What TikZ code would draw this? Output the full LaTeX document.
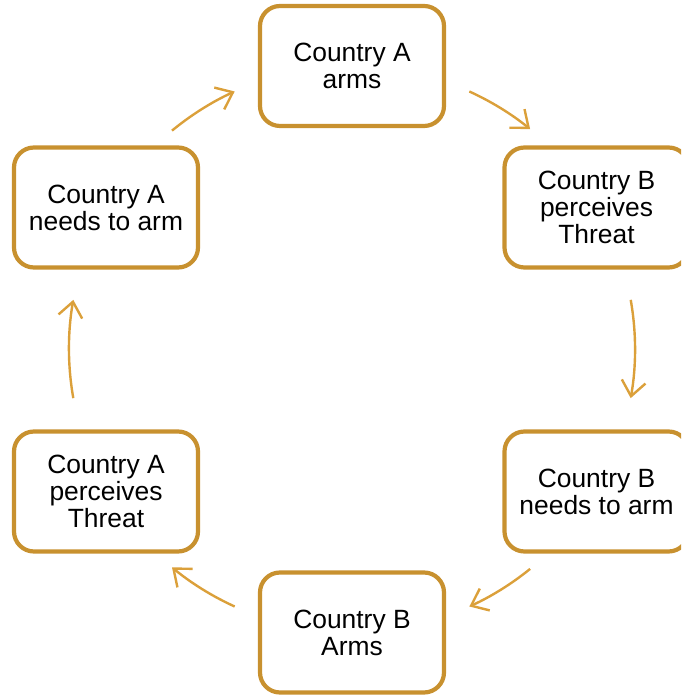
\documentclass[tikz,border=0pt]{standalone}
\usepackage{fontspec}
\setmainfont{Liberation Sans}
\usetikzlibrary{arrows.meta}
\definecolor{boxcol}{HTML}{C8912F}
\definecolor{arrcol}{HTML}{DBA03A}
\tikzset{
  cbox/.style={draw=boxcol, line width=4.2pt, rounded corners=20pt, fill=white,
    minimum width=184pt, minimum height=120pt, inner sep=0pt, align=center,
    font=\fontsize{26.4pt}{27pt}\selectfont},
  cyc/.style={draw=arrcol, line width=2.4pt, -{Straight Barb[length=15pt,width=24pt]}},
}
\begin{document}
\begin{tikzpicture}[x=1pt,y=1pt]
\useasboundingbox (0,0) rectangle (681,695);
\begin{scope}
\clip (0,0) rectangle (681,695);
\node[cbox] (aarms) at (352,629) {Country A\\arms};
\node[cbox] (bperc) at (596.5,487.5) {Country B\\perceives\\Threat};
\node[cbox] (bneed) at (596.5,203.5) {Country B\\needs to arm};
\node[cbox] (barms) at (352,62.5) {Country B\\Arms};
\node[cbox] (aperc) at (106,203.5) {Country A\\perceives\\Threat};
\node[cbox] (aneed) at (106,487.5) {Country A\\needs to arm};
\end{scope}
\path (352,346) ++(129.5:283) coordinate (s1);
\path (352,346) ++(65.5:283) coordinate (s2);
\path (352,346) ++(10:283) coordinate (s3);
\path (352,346) ++(-51:283) coordinate (s4);
\path (352,346) ++(-114.5:283) coordinate (s5);
\path (352,346) ++(-170:283) coordinate (s6);
\draw[cyc] (s1) arc[start angle=129.5, end angle=114.5, radius=283];
\draw[cyc] (s2) arc[start angle=65.5, end angle=51, radius=283];
\draw[cyc] (s3) arc[start angle=10, end angle=-10, radius=283];
\draw[cyc] (s4) arc[start angle=-51, end angle=-65.5, radius=283];
\draw[cyc] (s5) arc[start angle=-114.5, end angle=-129.5, radius=283];
\draw[cyc] (s6) arc[start angle=-170, end angle=-190, radius=283];
\end{tikzpicture}
\end{document}
